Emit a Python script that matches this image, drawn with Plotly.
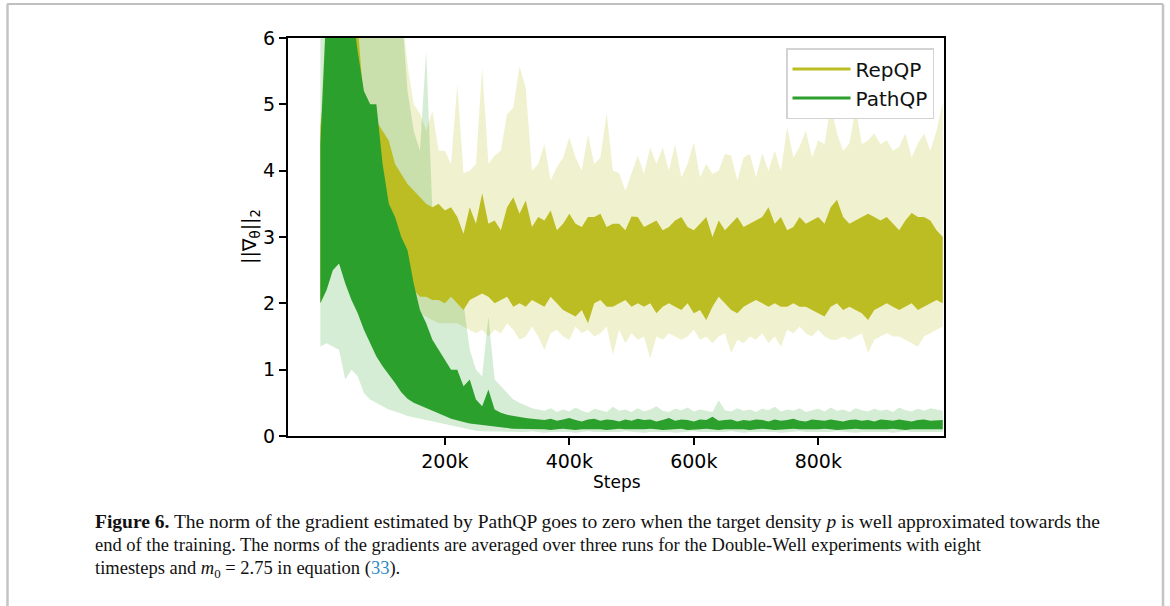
import plotly.graph_objects as go

# ---------------- data (10k-step sampling) ----------------
steps_k = list(range(0, 1001, 10))  # training steps in thousands

x_tick_vals = [200000, 400000, 600000, 800000]
x_tick_text = ["200k", "400k", "600k", "800k"]
y_tick_vals = [0, 1, 2, 3, 4, 5, 6]

series_names = ["RepQP", "PathQP"]
series_colors = ["#bcbd22", "#2ca02c"]

# RepQP: envelope of the averaged curve (dark) and of the runs (light)
rep_mean_hi = [
    4.66, 5.5, 6.2, 6.2, 6.2, 6.0, 6.2, 5.0, 4.7, 4.75,
    4.6, 4.45, 4.1, 3.95, 3.8, 3.7, 3.6, 3.5, 3.45, 3.5,
    3.4, 3.45, 3.3, 3.05, 3.45, 3.2, 3.66, 3.2, 3.25, 3.1,
    3.45, 3.6, 3.35, 3.55, 3.15, 3.3, 3.25, 3.4, 3.1, 3.2,
    3.35, 3.2, 3.15, 3.3, 3.3, 3.35, 3.15, 3.2, 3.2, 3.1,
    3.31, 3.3, 3.15, 3.2, 3.25, 3.1, 3.15, 3.25, 3.3, 3.15,
    3.1, 3.2, 3.3, 3.0, 3.25, 3.1, 3.2, 3.3, 3.15, 3.2,
    3.25, 3.3, 3.45, 3.2, 3.3, 3.1, 3.15, 3.3, 3.2, 3.25,
    3.3, 3.2, 3.45, 3.56, 3.3, 3.2, 3.25, 3.3, 3.35, 3.3,
    3.25, 3.3, 3.2, 3.1, 3.25, 3.36, 3.3, 3.3, 3.25, 3.1,
    3.0]
rep_mean_lo = [
    2.0, 2.6, 3.0, 3.2, 3.3, 3.3, 3.2, 3.0, 2.9, 2.8,
    2.7, 2.6, 2.5, 2.35, 2.2, 2.2, 2.1, 2.1, 2.05, 2.05,
    2.0, 2.1, 2.0, 1.9, 2.05, 2.1, 2.15, 2.1, 2.0, 2.05,
    2.1, 1.95, 2.0, 1.95, 2.05, 2.0, 1.95, 2.1, 2.0, 1.9,
    1.85, 1.8, 1.9, 1.7, 2.0, 2.05, 1.95, 1.95, 2.0, 2.05,
    1.95, 2.0, 1.95, 2.0, 1.85, 1.95, 2.0, 1.95, 1.9, 2.0,
    1.85, 1.9, 1.75, 1.95, 2.1, 2.0, 1.9, 1.85, 1.95, 2.0,
    2.05, 2.0, 1.95, 2.0, 1.95, 1.95, 2.0, 1.95, 1.95, 1.9,
    1.85, 1.8, 1.95, 2.0, 1.9, 1.95, 1.9, 1.85, 1.75, 1.9,
    1.95, 2.0, 1.95, 1.9, 1.95, 2.0, 1.9, 1.95, 2.0, 2.05,
    2.0]
rep_runs_hi = [
    4.7, 6.5, 6.5, 6.5, 6.5, 6.5, 6.5, 6.5, 6.5, 6.5,
    6.5, 6.5, 6.5, 6.5, 5.6, 5.0, 4.86, 4.6, 4.9, 4.3,
    4.3, 4.1, 5.3, 3.96, 4.0, 4.1, 5.55, 4.1, 4.23, 4.3,
    4.85, 4.95, 5.57, 5.25, 4.0, 4.1, 4.4, 3.85, 4.05, 4.2,
    4.5, 4.2, 4.0, 4.55, 4.1, 4.2, 4.87, 4.0, 3.96, 3.7,
    3.96, 4.23, 3.95, 4.35, 4.1, 4.35, 4.0, 4.4, 3.9, 4.1,
    4.43, 3.9, 4.1, 3.95, 4.0, 4.25, 4.23, 3.85, 4.2, 4.25,
    3.9, 4.26, 4.0, 4.3, 4.0, 4.66, 4.2, 4.36, 4.6, 4.2,
    4.46, 4.4, 4.99, 4.56, 4.3, 4.41, 4.94, 4.4, 4.46, 4.56,
    4.4, 4.46, 4.3, 4.36, 4.56, 4.2, 4.41, 4.56, 4.3, 4.6,
    5.04]
rep_runs_lo = [
    2.0, 2.2, 2.5, 2.6, 2.6, 2.6, 2.6, 2.5, 2.5, 2.4,
    2.4, 2.3, 2.2, 2.0, 1.9, 1.85, 1.85, 1.8, 1.75, 1.7,
    1.7, 1.7, 1.7, 1.65, 1.6, 1.55, 1.6, 1.5, 1.6, 1.55,
    1.7, 1.6, 1.45, 1.5, 1.65, 1.5, 1.3, 1.55, 1.6, 1.5,
    1.45, 1.65, 1.55, 1.6, 1.5, 1.55, 1.65, 1.22, 1.6, 1.4,
    1.55, 1.45, 1.5, 1.17, 1.5, 1.45, 1.55, 1.5, 1.45, 1.5,
    1.6, 1.45, 1.5, 1.4, 1.5, 1.55, 1.25, 1.45, 1.4, 1.5,
    1.45, 1.55, 1.4, 1.5, 1.35, 1.6, 1.55, 1.65, 1.55, 1.5,
    1.6, 1.5, 1.45, 1.45, 1.5, 1.45, 1.5, 1.55, 1.25, 1.45,
    1.5, 1.55, 1.5, 1.5, 1.45, 1.4, 1.35, 1.5, 1.55, 1.6,
    1.65]

# PathQP
path_mean_hi = [
    4.4, 6.5, 6.5, 6.5, 6.5, 6.5, 5.8, 5.2, 5.0, 5.0,
    4.1, 3.5, 3.3, 3.0, 2.8, 2.3, 1.9, 1.7, 1.45, 1.3,
    1.15, 1.0, 1.0, 0.75, 0.85, 0.55, 0.45, 0.7, 0.4, 0.35,
    0.32, 0.3, 0.28, 0.27, 0.26, 0.25, 0.24, 0.26, 0.23, 0.25,
    0.27, 0.24, 0.22, 0.25, 0.26, 0.23, 0.25, 0.24, 0.22, 0.25,
    0.23, 0.26, 0.24, 0.25, 0.22, 0.24, 0.27, 0.23, 0.25, 0.24,
    0.22, 0.25, 0.24, 0.29, 0.23, 0.24, 0.25, 0.22, 0.24, 0.23,
    0.25, 0.24, 0.22, 0.25, 0.23, 0.24, 0.26, 0.23, 0.22, 0.25,
    0.24, 0.23, 0.25, 0.24, 0.22, 0.24, 0.25, 0.23, 0.24, 0.22,
    0.25, 0.24, 0.23, 0.25, 0.24, 0.22, 0.24, 0.25, 0.23, 0.24,
    0.24]
path_mean_lo = [
    2.0, 2.2, 2.5, 2.6, 2.3, 2.05, 1.85, 1.6, 1.4, 1.2,
    1.05, 0.92, 0.8, 0.66, 0.56, 0.5, 0.45, 0.41, 0.37, 0.34,
    0.3, 0.26, 0.23, 0.21, 0.19, 0.17, 0.16, 0.15, 0.14, 0.13,
    0.12, 0.11, 0.11, 0.1, 0.11, 0.1, 0.1, 0.09, 0.1, 0.11,
    0.1, 0.09, 0.1, 0.11, 0.1, 0.1, 0.09, 0.1, 0.11, 0.1,
    0.09, 0.1, 0.1, 0.11, 0.1, 0.09, 0.1, 0.1, 0.11, 0.09,
    0.1, 0.1, 0.11, 0.1, 0.09, 0.1, 0.11, 0.1, 0.1, 0.09,
    0.1, 0.11, 0.1, 0.09, 0.1, 0.1, 0.11, 0.1, 0.09, 0.1,
    0.1, 0.11, 0.1, 0.09, 0.1, 0.1, 0.11, 0.1, 0.1, 0.09,
    0.1, 0.1, 0.11, 0.1, 0.09, 0.1, 0.1, 0.11, 0.1, 0.1,
    0.1]
path_runs_hi = [
    6.5, 6.5, 6.5, 6.5, 6.5, 6.5, 6.5, 6.5, 6.5, 6.5,
    6.5, 6.5, 6.5, 6.5, 5.2, 4.6, 4.3, 5.8, 3.4, 2.8,
    2.3, 2.2, 2.1, 2.0, 1.3, 1.0, 0.9, 1.8, 0.85, 0.75,
    0.65, 0.55, 0.5, 0.46, 0.42, 0.4, 0.38, 0.42, 0.36, 0.4,
    0.37, 0.43, 0.38, 0.35, 0.41, 0.39, 0.36, 0.44, 0.38, 0.4,
    0.36, 0.42, 0.37, 0.4, 0.45, 0.38, 0.36, 0.41, 0.39, 0.43,
    0.37, 0.4, 0.38, 0.36, 0.54, 0.39, 0.37, 0.42, 0.38, 0.4,
    0.36, 0.41, 0.39, 0.44, 0.37, 0.4, 0.38, 0.42, 0.36, 0.39,
    0.41, 0.37, 0.43, 0.38, 0.4, 0.36, 0.42, 0.39, 0.37, 0.41,
    0.38, 0.4, 0.36, 0.43, 0.39, 0.37, 0.41, 0.38, 0.42, 0.4,
    0.38]
path_runs_lo = [
    1.35, 1.4, 1.35, 1.3, 0.85, 1.0, 0.9, 0.65, 0.55, 0.5,
    0.45, 0.4, 0.37, 0.34, 0.3, 0.28, 0.26, 0.24, 0.22, 0.2,
    0.18, 0.16, 0.14, 0.12, 0.1, 0.08, 0.07, 0.07, 0.06, 0.07,
    0.06, 0.07, 0.06, 0.06, 0.07, 0.06, 0.05, 0.06, 0.07, 0.06,
    0.06, 0.05, 0.06, 0.07, 0.06, 0.06, 0.05, 0.06, 0.06, 0.07,
    0.06, 0.06, 0.05, 0.06, 0.07, 0.06, 0.06, 0.05, 0.06, 0.06,
    0.07, 0.06, 0.06, 0.05, 0.06, 0.06, 0.07, 0.06, 0.05, 0.06,
    0.06, 0.07, 0.06, 0.06, 0.05, 0.06, 0.06, 0.07, 0.06, 0.06,
    0.05, 0.06, 0.06, 0.07, 0.06, 0.06, 0.05, 0.06, 0.06, 0.07,
    0.06, 0.06, 0.05, 0.06, 0.07, 0.06, 0.06, 0.05, 0.06, 0.06,
    0.06]

caption_lines = [
    "<b>Figure 6.</b> The norm of the gradient estimated by PathQP goes to zero when the target density <i>p</i> is well approximated towards the",
    "end of the training. The norms of the gradients are averaged over three runs for the Double-Well experiments with eight",
    "timesteps and <i>m</i><sub>0</sub> = 2.75 in equation (<span style='color:#2e8ac8'>33</span>).",
]

# ---------------- layout geometry (pixels) ----------------
W_FIG, H_FIG = 1170, 606
PL, PR, PT, PB = 288, 944, 38, 436


def px(xp):
    return (xp - PL) / (PR - PL)


def py(yp):
    return (PB - yp) / (PB - PT)


def rgba(hex_color, a):
    h = hex_color.lstrip("#")
    r, g, b = int(h[0:2], 16), int(h[2:4], 16), int(h[4:6], 16)
    return f"rgba({r},{g},{b},{a})"


steps = [s * 1000 for s in steps_k]
xs_band = steps + steps[::-1]

fig = go.Figure()


def band(hi, lo, color):
    fig.add_trace(go.Scatter(
        x=xs_band, y=hi + lo[::-1], fill="toself", fillcolor=color,
        mode="lines", line=dict(width=0, color=color),
        hoverinfo="skip", showlegend=False))


band(rep_runs_hi, rep_runs_lo, rgba(series_colors[0], 0.22))
band(path_runs_hi, path_runs_lo, rgba(series_colors[1], 0.2))
band(rep_mean_hi, rep_mean_lo, series_colors[0])
band(path_mean_hi, path_mean_lo, series_colors[1])

for name, col in zip(series_names, series_colors):
    fig.add_trace(go.Scatter(x=[None], y=[None], mode="lines", name=name,
                             line=dict(color=col, width=3)))

axis_font = dict(family="DejaVu Sans", size=19, color="black")

fig.update_layout(
    width=W_FIG, height=H_FIG,
    margin=dict(l=PL, r=W_FIG - PR, t=PT, b=H_FIG - PB, pad=0),
    paper_bgcolor="white", plot_bgcolor="white",
    font=dict(family="DejaVu Sans", color="black", size=19),
    xaxis=dict(range=[-52000, 1002000], tickvals=x_tick_vals, ticktext=x_tick_text,
               showgrid=False, zeroline=False, showline=True, mirror=True,
               linecolor="black", linewidth=2, ticks="outside", ticklen=7,
               tickwidth=2, tickcolor="black", tickfont=axis_font),
    yaxis=dict(range=[0, 6], tickvals=y_tick_vals,
               showgrid=False, zeroline=False, showline=True, mirror=True,
               linecolor="black", linewidth=2, ticks="outside", ticklen=7,
               tickwidth=2, tickcolor="black", tickfont=axis_font),
    legend=dict(x=px(934), y=py(48), xanchor="right", yanchor="top",
                bgcolor="white", bordercolor="#d3d3d3", borderwidth=1.5,
                font=dict(family="DejaVu Sans", size=20, color="#111"),
                tracegroupgap=0, itemwidth=58),
    showlegend=True,
)

annotations = [
    dict(x=px(250), y=py(237), xref="paper", yref="paper", showarrow=False,
         text="||∇<sub>θ</sub>||<sub>2</sub>", textangle=-90,
         font=dict(family="DejaVu Sans", size=19, color="black"),
         xanchor="center", yanchor="middle"),
    dict(x=px(617), y=py(482), xref="paper", yref="paper", showarrow=False,
         text="Steps", font=dict(family="DejaVu Sans", size=17, color="black"),
         xanchor="center", yanchor="middle"),
]
caption_sizes = [19.5, 18.5, 18.5]
for line, ycen, fs in zip(caption_lines, [521, 545, 569], caption_sizes):
    annotations.append(dict(
        x=px(93), y=py(ycen), xref="paper", yref="paper", showarrow=False,
        text=line, align="left", xanchor="left", yanchor="middle",
        font=dict(family="Liberation Serif", size=fs, color="#111")))
fig.update_layout(annotations=annotations)

# page frame around the figure
shapes = [
    dict(type="line", xref="paper", yref="paper", x0=px(7), x1=px(1163),
         y0=py(4), y1=py(4), line=dict(color="#808080", width=1)),
    dict(type="line", xref="paper", yref="paper", x0=px(7.5), x1=px(7.5),
         y0=py(4), y1=py(610), line=dict(color="#c4c4c4", width=2.5)),
    dict(type="line", xref="paper", yref="paper", x0=px(1163), x1=px(1163),
         y0=py(4), y1=py(610), line=dict(color="#c4c4c4", width=2.5)),
]
fig.update_layout(shapes=shapes)

fig.write_html("out.html")
